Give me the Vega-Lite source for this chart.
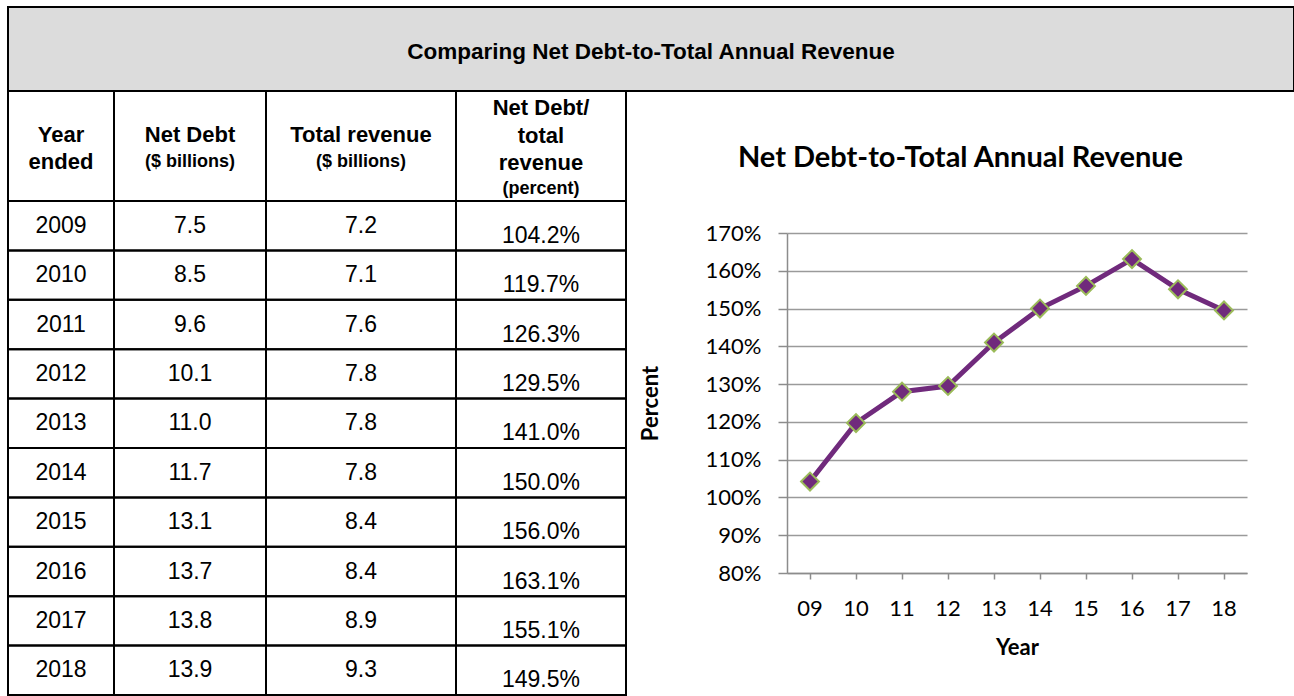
{
  "$schema": "https://vega.github.io/schema/vega-lite/v6.json",
  "padding": {"left": 6, "top": 6, "right": 0, "bottom": 0},
  "background": "white",
  "spacing": 0,
  "bounds": "flush",
  "config": {
    "view": {"stroke": "black", "strokeWidth": 2},
    "text": {"font": "Liberation Sans", "fontSize": 22, "color": "#000000"}
  },
  "datasets": {
    "rows": [
      {"year": 2009, "yy": "09", "net_debt": 7.5, "revenue": 7.2, "ratio": 1.042, "plotted": 1.042},
      {"year": 2010, "yy": "10", "net_debt": 8.5, "revenue": 7.1, "ratio": 1.197, "plotted": 1.197},
      {"year": 2011, "yy": "11", "net_debt": 9.6, "revenue": 7.6, "ratio": 1.263, "plotted": 1.28},
      {"year": 2012, "yy": "12", "net_debt": 10.1, "revenue": 7.8, "ratio": 1.295, "plotted": 1.295},
      {"year": 2013, "yy": "13", "net_debt": 11.0, "revenue": 7.8, "ratio": 1.41, "plotted": 1.41},
      {"year": 2014, "yy": "14", "net_debt": 11.7, "revenue": 7.8, "ratio": 1.5, "plotted": 1.5},
      {"year": 2015, "yy": "15", "net_debt": 13.1, "revenue": 8.4, "ratio": 1.56, "plotted": 1.56},
      {"year": 2016, "yy": "16", "net_debt": 13.7, "revenue": 8.4, "ratio": 1.631, "plotted": 1.631},
      {"year": 2017, "yy": "17", "net_debt": 13.8, "revenue": 8.9, "ratio": 1.551, "plotted": 1.551},
      {"year": 2018, "yy": "18", "net_debt": 13.9, "revenue": 9.3, "ratio": 1.495, "plotted": 1.495}
    ]
  },
  "vconcat": [
    {
      "width": 1286,
      "height": 84,
      "view": {"fill": "#dcdcdc", "stroke": "black", "strokeWidth": 2},
      "data": {"values": [{}]},
      "mark": {"type": "text", "text": "Comparing Net Debt-to-Total Annual Revenue", "fontWeight": "bold", "fontSize": 22.5, "baseline": "middle", "dy": 3},
      "encoding": {}
    },
    {
      "columns": 5,
      "spacing": 0,
      "bounds": "flush",
      "align": "each",
      "concat": [
        {
          "width": 106, "height": 110, "data": {"values": [{}]},
          "view": {"stroke": "black", "strokeWidth": 2},
          "layer": [
            {"mark": {"type": "text", "text": "Year", "fontWeight": "bold", "fontSize": 22, "baseline": "middle", "dy": -11}, "encoding": {}},
            {"mark": {"type": "text", "text": "ended", "fontWeight": "bold", "fontSize": 22, "baseline": "middle", "dy": 16}, "encoding": {}}
          ]
        },
        {
          "width": 152, "height": 110, "data": {"values": [{}]},
          "view": {"stroke": "black", "strokeWidth": 2},
          "layer": [
            {"mark": {"type": "text", "text": "Net Debt", "fontWeight": "bold", "fontSize": 22, "baseline": "middle", "dy": -11}, "encoding": {}},
            {"mark": {"type": "text", "text": "($ billions)", "fontWeight": "bold", "fontSize": 18, "baseline": "middle", "dy": 16}, "encoding": {}}
          ]
        },
        {
          "width": 190, "height": 110, "data": {"values": [{}]},
          "view": {"stroke": "black", "strokeWidth": 2},
          "layer": [
            {"mark": {"type": "text", "text": "Total revenue", "fontWeight": "bold", "fontSize": 22, "baseline": "middle", "dy": -11}, "encoding": {}},
            {"mark": {"type": "text", "text": "($ billions)", "fontWeight": "bold", "fontSize": 18, "baseline": "middle", "dy": 16}, "encoding": {}}
          ]
        },
        {
          "width": 170, "height": 110, "data": {"values": [{}]},
          "view": {"stroke": "black", "strokeWidth": 2},
          "layer": [
            {"mark": {"type": "text", "text": "Net Debt/", "fontWeight": "bold", "fontSize": 22, "baseline": "middle", "dy": -38}, "encoding": {}},
            {"mark": {"type": "text", "text": "total", "fontWeight": "bold", "fontSize": 22, "baseline": "middle", "dy": -10}, "encoding": {}},
            {"mark": {"type": "text", "text": "revenue", "fontWeight": "bold", "fontSize": 22, "baseline": "middle", "dy": 17}, "encoding": {}},
            {"mark": {"type": "text", "text": "(percent)", "fontWeight": "bold", "fontSize": 18, "baseline": "middle", "dy": 43}, "encoding": {}}
          ]
        },
        {
          "width": 669, "height": 110, "data": {"values": [{}]},
          "view": {"stroke": null},
          "mark": {"type": "text", "text": "Net Debt-to-Total Annual Revenue", "font": "Lato", "fontSize": 29, "fontWeight": "bold", "baseline": "middle", "dy": 12},
          "encoding": {}
        },
        {
          "width": 106, "height": 494, "data": {"name": "rows"},
          "view": {"stroke": "black", "strokeWidth": 2},
          "encoding": {"y": {"field": "year", "type": "ordinal", "axis": null, "scale": {"paddingInner": 0, "paddingOuter": 0}}},
          "layer": [
            {"mark": {"type": "rect", "fill": "transparent", "stroke": "black", "strokeWidth": 2}},
            {"mark": {"type": "text", "fontSize": 23, "baseline": "middle"}, "encoding": {"text": {"field": "year", "type": "nominal"}}}
          ]
        },
        {
          "width": 152, "height": 494, "data": {"name": "rows"},
          "view": {"stroke": "black", "strokeWidth": 2},
          "encoding": {"y": {"field": "year", "type": "ordinal", "axis": null, "scale": {"paddingInner": 0, "paddingOuter": 0}}},
          "layer": [
            {"mark": {"type": "rect", "fill": "transparent", "stroke": "black", "strokeWidth": 2}},
            {"mark": {"type": "text", "fontSize": 23, "baseline": "middle"}, "encoding": {"text": {"field": "net_debt", "type": "quantitative", "format": ".1f"}}}
          ]
        },
        {
          "width": 190, "height": 494, "data": {"name": "rows"},
          "view": {"stroke": "black", "strokeWidth": 2},
          "encoding": {"y": {"field": "year", "type": "ordinal", "axis": null, "scale": {"paddingInner": 0, "paddingOuter": 0}}},
          "layer": [
            {"mark": {"type": "rect", "fill": "transparent", "stroke": "black", "strokeWidth": 2}},
            {"mark": {"type": "text", "fontSize": 23, "baseline": "middle"}, "encoding": {"text": {"field": "revenue", "type": "quantitative", "format": ".1f"}}}
          ]
        },
        {
          "width": 170, "height": 494, "data": {"name": "rows"},
          "view": {"stroke": "black", "strokeWidth": 2},
          "encoding": {"y": {"field": "year", "type": "ordinal", "axis": null, "scale": {"paddingInner": 0, "paddingOuter": 0}}},
          "layer": [
            {"mark": {"type": "rect", "fill": "transparent", "stroke": "black", "strokeWidth": 2}},
            {"mark": {"type": "text", "fontSize": 23, "baseline": "middle", "dy": 10}, "encoding": {"text": {"field": "ratio", "type": "quantitative", "format": ".1%"}}}
          ]
        },
        {
          "width": 669,
          "height": 494,
          "view": {"stroke": null},
          "data": {"name": "rows"},
          "encoding": {
            "x": {
              "field": "yy", "type": "ordinal",
              "scale": {"type": "band", "range": [161, 621], "paddingInner": 0, "paddingOuter": 0},
              "axis": {"title": "Year", "titleFont": "Lato", "titleFontWeight": "bold", "titleFontSize": 22, "titleColor": "#000000", "titlePadding": 18,
                       "labelFont": "Lato", "labelFontSize": 22, "labelColor": "#000000", "labelAngle": 0, "labelPadding": 19,
                       "tickSize": 6, "tickColor": "#8c8c8c", "tickWidth": 1.5, "domainColor": "#8c8c8c", "domainWidth": 1.5,
                       "offset": -122, "grid": false}
            },
            "y": {
              "field": "plotted", "type": "quantitative",
              "scale": {"domain": [0.8, 1.7], "range": [372, 32], "zero": false, "nice": false},
              "axis": {"title": "Percent", "titleFont": "Lato", "titleFontWeight": "bold", "titleFontSize": 22, "titleColor": "#000000", "titlePadding": 43,
                       "values": [0.8, 0.9, 1.0, 1.1, 1.2, 1.3, 1.4, 1.5, 1.6, 1.7], "format": ".0%",
                       "labelFont": "Lato", "labelFontSize": 22, "labelColor": "#000000", "labelPadding": 17,
                       "tickSize": 9, "tickColor": "#8c8c8c", "tickWidth": 1.5, "domainColor": "#8c8c8c", "domainWidth": 1.5,
                       "grid": true, "gridColor": "#9a9a9a", "gridWidth": 1.5, "offset": -161}
            }
          },
          "layer": [
            {"mark": {"type": "line", "color": "#702a7c", "strokeWidth": 5}},
            {"mark": {"type": "point", "shape": "diamond", "size": 320, "filled": true, "fill": "#702a7c", "stroke": "#9bbb59", "strokeWidth": 2, "opacity": 1}}
          ]
        }
      ]
    }
  ]
}
